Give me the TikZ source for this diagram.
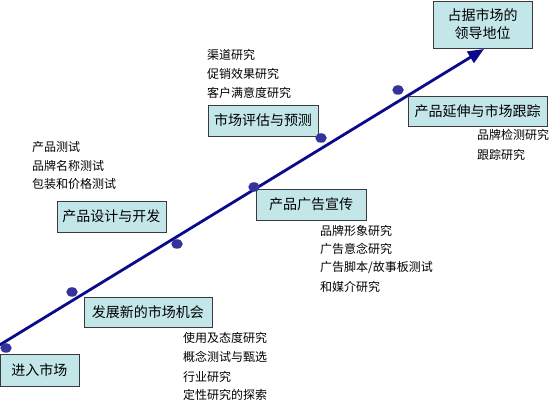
\documentclass[tikz,border=0pt]{standalone}
\usepackage{fontspec}
\newfontfamily\cjk{Noto Sans CJK SC}
\usetikzlibrary{arrows.meta,shadows,shapes.geometric}
\definecolor{boxfill}{HTML}{C3E6E9}
\definecolor{boxline}{HTML}{3A3A3A}
\definecolor{linecol}{HTML}{0A0A8A}
\definecolor{dotcol}{HTML}{33339A}
\tikzset{
  stagebox/.style={draw=boxline, line width=0.8pt, fill=boxfill, inner sep=0pt,
    font=\cjk\fontsize{14}{18}\selectfont, align=center,
    drop shadow={shadow xshift=0.9pt, shadow yshift=-0.9pt, opacity=0.7, fill=black!70}},
  item/.style={anchor=west, inner sep=0pt, font=\cjk\fontsize{12}{14}\selectfont},
  mainline/.style={draw=linecol, line width=2.8pt, -{Triangle[length=16pt,width=13pt]}},
  spot/.style={fill=dotcol, draw=none, ellipse, minimum width=11.5pt, minimum height=9.5pt, inner sep=0pt}
}
\begin{document}
\begin{tikzpicture}[x=1pt,y=-1pt]
\useasboundingbox (0,0) rectangle (550,401);
\fill[white] (0,0) rectangle (550,401);
% main line
\coordinate (start) at (-2,346);
\coordinate (tip) at (484,49);
\draw[mainline] (start) -- (tip);
% stage boxes
\node[stagebox, minimum width=79pt, minimum height=32pt] (enter) at (39.5,370) {进入市场};
\node[stagebox, minimum width=128pt, minimum height=30pt] (develop) at (148,312) {发展新的市场机会};
\node[stagebox, minimum width=109pt, minimum height=31pt] (design) at (111.5,216.5) {产品设计与开发};
\node[stagebox, minimum width=110pt, minimum height=31pt] (advert) at (311,204.5) {产品广告宣传};
\node[stagebox, minimum width=110pt, minimum height=31pt] (assess) at (263,120.5) {市场评估与预测};
\node[stagebox, minimum width=139pt, minimum height=30pt] (extend) at (477.5,111) {产品延伸与市场跟踪};
\node[stagebox, minimum width=99pt, minimum height=47pt] (lead) at (482.5,24.5) {占据市场的\\领导地位};
% dots
\node[spot] (d1) at (6,348) {};
\node[spot] (d2) at (72,292) {};
\node[spot] (d3) at (177,244) {};
\node[spot] (d4) at (254,187) {};
\node[spot] (d5) at (321,138) {};
\node[spot] (d6) at (398,90) {};
% item lists
\node[item] (a1) at (183,338) {使用及态度研究};
\node[item] (a2) at (183,357) {概念测试与甄选};
\node[item] (a3) at (183,377) {行业研究};
\node[item] (a4) at (183,395) {定性研究的探索};
\node[item] (b1) at (32,147) {产品测试};
\node[item] (b2) at (32,166) {品牌名称测试};
\node[item] (b3) at (32,184) {包装和价格测试};
\node[item] (c1) at (207,55) {渠道研究};
\node[item] (c2) at (207,74) {促销效果研究};
\node[item] (c3) at (207,93) {客户满意度研究};
\node[item] (e1) at (320,231) {品牌形象研究};
\node[item] (e2) at (320,249) {广告意念研究};
\node[item] (e3) at (320,268) {广告脚本/故事板测试};
\node[item] (e4) at (320,287) {和媒介研究};
\node[item] (f1) at (477,135) {品牌检测研究};
\node[item] (f2) at (477,155) {跟踪研究};
\end{tikzpicture}
\end{document}
